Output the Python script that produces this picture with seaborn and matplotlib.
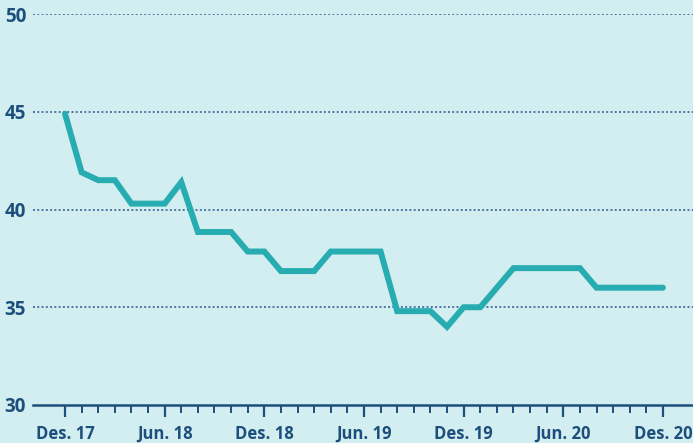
import matplotlib
matplotlib.use("Agg")
import matplotlib.pyplot as plt
import seaborn as sns
import pandas as pd
from matplotlib.ticker import FixedLocator

# Monthly values, Des. 17 through Des. 20
months = list(range(37))
values = [44.9, 41.9, 41.5, 41.5, 40.3, 40.3, 40.3, 41.4, 38.85, 38.85, 38.85, 37.85,
          37.85, 36.85, 36.85, 36.85, 37.85, 37.85, 37.85, 37.85, 34.8, 34.8, 34.8, 34.0,
          35.0, 35.0, 36.0, 37.0, 37.0, 37.0, 37.0, 37.0, 36.0, 36.0, 36.0, 36.0, 36.0]
tick_positions = [0, 6, 12, 18, 24, 30, 36]
tick_labels = ["Des. 17", "Jun. 18", "Des. 18", "Jun. 19", "Des. 19", "Jun. 20", "Des. 20"]
y_ticks = [30, 35, 40, 45, 50]

df = pd.DataFrame({"month": months, "value": values})

bg = "#d3eef0"
ink = "#1d4f7c"
teal = "#27acb1"

sns.set_theme(style="white")
plt.rcParams["font.family"] = ["Open Sans", "DejaVu Sans"]

fig = plt.figure(figsize=(6.93, 4.43), dpi=100, facecolor=bg)
ax = fig.add_axes([33 / 693, 38 / 443, 1 - 33 / 693, (405 - 14) / 443])
ax.set_facecolor(bg)

sns.lineplot(data=df, x="month", y="value", ax=ax, color=teal, linewidth=4.3,
             solid_joinstyle="miter", solid_capstyle="round", zorder=3)

ax.set_xlim(-32 / 16.61, (693 - 65) / 16.61)
ax.set_ylim(30, 50)

for y in y_ticks[1:]:
    ax.axhline(y, color="#4f74a0", linewidth=1.4, linestyle=(0, (1, 1.2)), zorder=1)

for side in ["left", "right", "top"]:
    ax.spines[side].set_visible(False)
ax.spines["bottom"].set_color(ink)
ax.spines["bottom"].set_linewidth(1.8)

ax.xaxis.set_major_locator(FixedLocator(tick_positions))
ax.xaxis.set_minor_locator(FixedLocator([m for m in months if m not in tick_positions]))
ax.set_xticklabels(tick_labels)
ax.tick_params(axis="x", which="major", direction="out", length=8.5, width=1.6,
               color=ink, labelcolor=ink, labelsize=12, pad=6, bottom=True)
ax.tick_params(axis="x", which="minor", direction="out", length=5.5, width=1.4,
               color=ink, bottom=True)
for lbl in ax.get_xticklabels():
    lbl.set_fontweight("bold")

ax.set_yticks(y_ticks)
ax.set_yticklabels([str(v) for v in y_ticks])
ax.tick_params(axis="y", which="both", length=0, labelcolor=ink, labelsize=13.5, pad=5, left=False)
for lbl in ax.get_yticklabels():
    lbl.set_fontweight("bold")

ax.set_xlabel("")
ax.set_ylabel("")

fig.savefig("out.png", dpi=100, facecolor=bg)
